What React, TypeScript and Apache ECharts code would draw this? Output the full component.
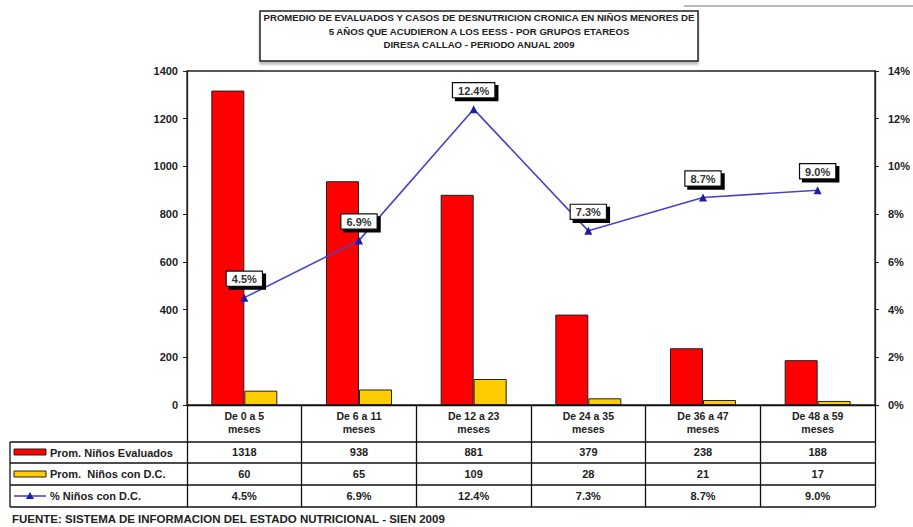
import React, { useEffect, useRef } from "react";
import * as echarts from "echarts";

const categories = [
  "De 0 a 5\nmeses",
  "De 6 a 11\nmeses",
  "De 12 a 23\nmeses",
  "De 24 a 35\nmeses",
  "De 36 a 47\nmeses",
  "De 48 a 59\nmeses",
];
const evaluados = [1318, 938, 881, 379, 238, 188];
const conDC = [60, 65, 109, 28, 21, 17];
const pctDC = [4.5, 6.9, 12.4, 7.3, 8.7, 9.0];
const seriesNames = ["Prom. Niños Evaluados", "Prom.  Niños con D.C.", "% Niños con D.C."];
const titleLines = [
  "PROMEDIO DE EVALUADOS Y CASOS DE DESNUTRICION CRONICA EN NIÑOS MENORES DE",
  "5 AÑOS QUE ACUDIERON A LOS EESS - POR GRUPOS ETAREOS",
  "DIRESA CALLAO - PERIODO ANUAL 2009",
];
const sourceText = "FUENTE: SISTEMA DE INFORMACION DEL ESTADO NUTRICIONAL - SIEN 2009";

const FONT = "Liberation Sans, Arial, sans-serif";
const TXT = "#222";
const RED = "#ff0000";
const YEL = "#ffcc00";
const LINE = "#4a44c4";
const MARK = "#1c1ca8";

export default function App() {
  const ref = useRef<HTMLDivElement>(null);
  useEffect(() => {
    if (!ref.current) return;
    const chart = echarts.init(ref.current, null, { renderer: "svg" });
    const L = 187, R = 875, T = 71, B = 405;
    const rows = [442, 463, 485, 507];
    const tableRowAxis = (data: (string | number)[], margin: number, fmt?: (v: any) => string) => ({
      type: "category",
      gridIndex: 0,
      position: "bottom",
      data: categories,
      axisLine: { show: false },
      axisTick: { show: false },
      splitLine: { show: false },
      axisLabel: {
        margin,
        fontFamily: FONT,
        fontSize: 11,
        fontWeight: "bold",
        color: TXT,
        lineHeight: 12,
        formatter: (_v: string, i: number) => (fmt ? fmt(data[i]) : String(data[i])),
      },
    });
    const hline = (y: number, x1: number, x2: number) => ({
      type: "line",
      shape: { x1, y1: y, x2, y2: y },
      style: { stroke: "#111", lineWidth: 1.3 },
      z: 10,
    });
    const legendText = (y: number, s: string) => ({
      type: "text",
      x: 50,
      y,
      style: {
        text: s,
        fontFamily: FONT,
        fontSize: 11,
        fontWeight: "bold",
        fill: TXT,
        textVerticalAlign: "middle",
        verticalAlign: "middle",
      },
      z: 10,
    });
    chart.setOption({
      animation: false,
      backgroundColor: "#fff",
      grid: {
        left: L,
        top: T,
        width: R - L,
        height: B - T,
        show: true,
        borderColor: "#222",
        borderWidth: 1.3,
        backgroundColor: "transparent",
      },
      xAxis: [
        {
          type: "category",
          gridIndex: 0,
          position: "bottom",
          data: categories,
          axisLine: { show: true, lineStyle: { color: "#111", width: 1.3 } },
          axisTick: { show: true, length: rows[3] - B, alignWithLabel: false, lineStyle: { color: "#111", width: 1.3 } },
          splitLine: { show: false },
          axisLabel: {
            margin: 4,
            fontFamily: FONT,
            fontSize: 10.5,
            fontWeight: "bold",
            color: TXT,
            lineHeight: 13,
          },
        },
        tableRowAxis(evaluados, 41),
        tableRowAxis(conDC, 63),
        tableRowAxis(pctDC, 85, (v) => v.toFixed(1) + "%"),
      ],
      yAxis: [
        {
          type: "value",
          min: 0,
          max: 1400,
          interval: 200,
          position: "left",
          axisLine: { show: true, lineStyle: { color: "#222", width: 1.3 } },
          axisTick: { show: true, length: 4, lineStyle: { color: "#222" } },
          splitLine: { show: false },
          axisLabel: {
            margin: 9,
            fontFamily: FONT,
            fontSize: 11,
            fontWeight: "bold",
            color: TXT,
            formatter: (v: number) => String(v),
          },
        },
        {
          type: "value",
          min: 0,
          max: 14,
          interval: 2,
          position: "right",
          axisLine: { show: true, lineStyle: { color: "#222", width: 1.3 } },
          axisTick: { show: true, length: 4, lineStyle: { color: "#222" } },
          splitLine: { show: false },
          axisLabel: {
            margin: 13,
            fontFamily: FONT,
            fontSize: 11,
            fontWeight: "bold",
            color: TXT,
            formatter: "{value}%",
          },
        },
      ],
      series: [
        {
          name: seriesNames[0],
          type: "bar",
          xAxisIndex: 0,
          yAxisIndex: 0,
          data: evaluados,
          barWidth: 33,
          barGap: "0%",
          itemStyle: { color: RED, borderColor: "#222", borderWidth: 1 },
        },
        {
          name: seriesNames[1],
          type: "bar",
          xAxisIndex: 0,
          yAxisIndex: 0,
          data: conDC,
          barWidth: 33,
          barGap: "0%",
          itemStyle: { color: YEL, borderColor: "#222", borderWidth: 1 },
        },
        {
          name: seriesNames[2],
          type: "line",
          xAxisIndex: 0,
          yAxisIndex: 1,
          data: pctDC,
          symbol: "triangle",
          symbolSize: 8,
          lineStyle: { color: LINE, width: 1.6 },
          itemStyle: { color: MARK },
          z: 5,
          label: {
            show: true,
            position: "top",
            distance: 8,
            formatter: (p: any) => p.value.toFixed(1) + "%",
            fontFamily: FONT,
            fontSize: 11,
            fontWeight: "bold",
            color: "#333",
            backgroundColor: "#fff",
            borderColor: "#111",
            borderWidth: 1.2,
            padding: [2, 5, 1, 5],
            shadowColor: "#000",
            shadowOffsetX: 3,
            shadowOffsetY: 3,
            shadowBlur: 0,
          },
        },
      ],
      graphic: [
        { type: "line", shape: { x1: 684, y1: 6, x2: 913, y2: 6 }, style: { stroke: "#777", lineWidth: 1 } },
        {
          type: "rect",
          shape: { x: 260, y: 11, width: 438, height: 50 },
          style: {
            fill: "#fff",
            stroke: "#222",
            lineWidth: 1.5,
            shadowColor: "rgba(0,0,0,0.25)",
            shadowOffsetX: 0,
            shadowOffsetY: 3,
            shadowBlur: 2,
          },
        },
        {
          type: "text",
          x: 479,
          y: 11,
          style: {
            text: titleLines.join("\n"),
            fontFamily: FONT,
            fontSize: 9.6,
            fontWeight: "bold",
            fill: TXT,
            align: "center",
            textAlign: "center",
            lineHeight: 13.5,
          },
        },
        hline(rows[0], 10, R),
        hline(rows[1], 10, R),
        hline(rows[2], 10, R),
        hline(rows[3], 10, R),
        { type: "line", shape: { x1: 10, y1: rows[0], x2: 10, y2: rows[3] }, style: { stroke: "#111", lineWidth: 1.3 }, z: 10 },
        {
          type: "rect",
          shape: { x: 14, y: 449, width: 32, height: 6 },
          style: { fill: RED, stroke: "#222", lineWidth: 1 },
          z: 10,
        },
        {
          type: "rect",
          shape: { x: 14, y: 471, width: 32, height: 6 },
          style: { fill: YEL, stroke: "#222", lineWidth: 1 },
          z: 10,
        },
        { type: "line", shape: { x1: 14, y1: 496, x2: 46, y2: 496 }, style: { stroke: LINE, lineWidth: 1.6 }, z: 10 },
        {
          type: "polygon",
          shape: { points: [[30, 492], [26, 499], [34, 499]] },
          style: { fill: MARK },
          z: 11,
        },
        legendText(452.5, seriesNames[0]),
        legendText(474, seriesNames[1]),
        legendText(496, seriesNames[2]),
        {
          type: "text",
          x: 12,
          y: 519,
          style: {
            text: sourceText,
            fontFamily: FONT,
            fontSize: 11.5,
            fontWeight: "bold",
            fill: TXT,
            verticalAlign: "middle",
            textVerticalAlign: "middle",
          },
        },
      ],
    } as any);
    return () => chart.dispose();
  }, []);
  return (
    <div
      ref={ref}
      style={{ position: "fixed", left: 0, top: 0, width: 913, height: 527, background: "#fff" }}
    />
  );
}
